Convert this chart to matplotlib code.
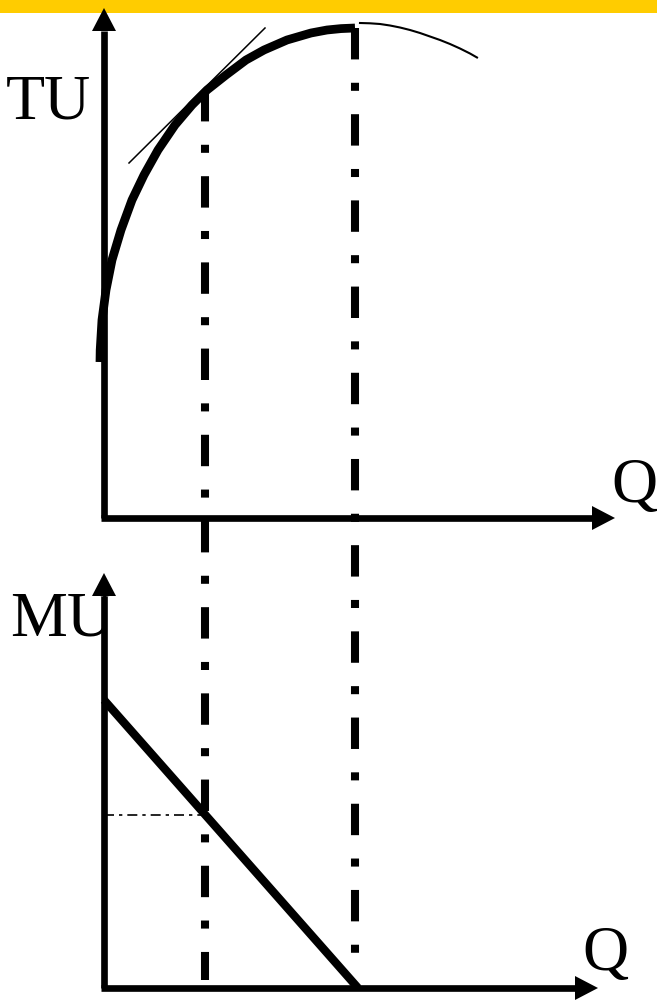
"""
Corba d'utilitat total (TU) i utilitat marginal (MU)
"""
import matplotlib
matplotlib.use("Agg")
import matplotlib.pyplot as plt
from matplotlib.patches import Polygon, Rectangle

W, H = 657, 1002

# --- dades llegides de la imatge (coordenades en píxels) ---
tu_curve_x = [100, 100.2, 102, 106, 112, 121, 132, 144, 158, 175, 192, 207,
              226, 246, 264, 287, 311, 327, 341, 355]
tu_curve_y = [362, 350, 320, 290, 260, 230, 200, 175, 150, 125, 105, 90,
              75, 60, 50, 40, 33, 30, 28.6, 28]
tu_tail_x = [360, 370, 380, 390, 400, 410, 420, 430, 440, 450, 460, 470, 477]
tu_tail_y = [23, 23.3, 24, 25.5, 27.5, 30, 33, 36.5, 40, 44, 48.5, 53.5, 57.5]
tangent_x = [129, 265]
tangent_y = [163, 28]
mu_line_x = [104, 358]
mu_line_y = [700, 988]
mu_level_x = [104, 205]
mu_level_y = [815, 815]
guide_x = [205, 355]
guide_top = [90, 28]
guide_bottom = [980, 972]

tu_axis_v = [(104, 518), (104, 8)]
tu_axis_h = [(101, 518), (615, 518)]
mu_axis_v = [(104, 988), (104, 573)]
mu_axis_h = [(101, 988), (598, 988)]

labels = ["TU", "Q", "MU", "Q"]
label_pos = [(48, 118), (634, 502), (62, 635), (605, 970)]


def arrow(ax, start, tip, lw=4.8, head_len=23, head_w=12):
    """Dibuixa un eix amb punta de fletxa triangular."""
    (x0, y0), (x1, y1) = start, tip
    dx, dy = x1 - x0, y1 - y0
    n = (dx ** 2 + dy ** 2) ** 0.5
    ux, uy = dx / n, dy / n
    bx, by = x1 - ux * head_len, y1 - uy * head_len
    ax.plot([x0, bx], [y0, by], color="black", lw=lw, solid_capstyle="butt")
    ax.add_patch(Polygon([(x1, y1), (bx - uy * head_w, by + ux * head_w),
                          (bx + uy * head_w, by - ux * head_w)],
                         closed=True, color="black", lw=0))


fig = plt.figure(figsize=(W / 100, H / 100), dpi=100)
ax = fig.add_axes([0, 0, 1, 1])
ax.set_xlim(0, W)
ax.set_ylim(H, 0)
ax.axis("off")

# franja groga de dalt
ax.add_patch(Rectangle((0, 0), W, 13, color="#FFCC00", lw=0))

# eixos
for start, tip in [tu_axis_v, tu_axis_h, mu_axis_v, mu_axis_h]:
    arrow(ax, start, tip)

# corba TU
ax.plot(tu_curve_x, tu_curve_y, color="black", lw=6.3,
        solid_capstyle="butt", solid_joinstyle="round")
ax.plot(tu_tail_x, tu_tail_y, color="black", lw=1.5, solid_joinstyle="round")
ax.plot(tangent_x, tangent_y, color="black", lw=1.1)

# línies guia verticals (punt i ratlla)
for gx, gt, gb in zip(guide_x, guide_top, guide_bottom):
    ax.plot([gx, gx], [gt, gb], color="black", lw=5.8,
            linestyle=(0, (3.9, 2.9, 1.0, 2.9)), dash_capstyle="butt")

# recta MU
ax.plot(mu_line_x, mu_line_y, color="black", lw=6.0, solid_capstyle="butt")
ax.plot(mu_level_x, mu_level_y, color="black", lw=1.2,
        linestyle=(0, (6, 3, 2, 3)))

# etiquetes
for txt, (tx, ty) in zip(labels, label_pos):
    ax.text(tx, ty, txt, fontsize=46, family="Liberation Serif",
            ha="center", va="baseline")

fig.savefig("out.png", dpi=100)
